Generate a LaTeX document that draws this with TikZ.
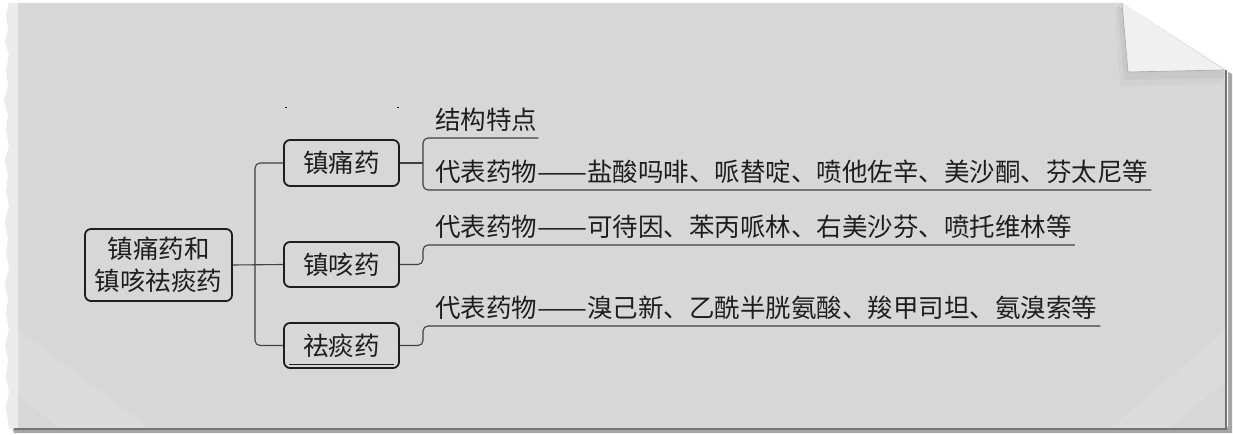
\documentclass[tikz,border=0pt]{standalone}
\usepackage{fontspec}
\newfontfamily\cjk{Noto Sans CJK SC}
\definecolor{paper}{HTML}{D7D7D7}
\definecolor{ink}{HTML}{1E1E1E}
\newcommand\longdash{\scalebox{1.17}[1]{——}}
\begin{document}
\begin{tikzpicture}[x=1pt,y=-1pt,
  box/.style={draw=ink, line width=1.8pt, rounded corners=6pt, minimum width=115pt, minimum height=46pt, inner sep=0pt, align=center, text=ink, font=\cjk\fontsize{25.5}{32}\selectfont},
  leaf/.style={anchor=base west, inner sep=0pt, text=ink, font=\cjk\fontsize{25.5}{32}\selectfont},
  conn/.style={draw=ink!85, line width=1.1pt, rounded corners=5pt}]
\useasboundingbox (0,0) rectangle (1233,435);
\fill[white] (0,0) rectangle (1233,435);
% paper shadow
\fill[black!35] (12,427) -- (1228,427) -- (1228,72) -- (1232,74) -- (1232,433) -- (14,433) -- cycle;
% torn light strip
\fill[black!8] (9,3) -- (6,15) -- (8,28) -- (5,42) -- (9,55) -- (6,70) -- (8,86) -- (4,100) -- (8,115) -- (6,130) -- (9,146) -- (5,160) -- (8,176) -- (6,192) -- (9,206) -- (5,222) -- (8,238) -- (6,252) -- (9,268) -- (5,284) -- (8,298) -- (6,314) -- (9,330) -- (5,346) -- (8,360) -- (6,376) -- (9,392) -- (6,408) -- (9,429) -- (20,429) -- (20,3) -- cycle;
% paper
\fill[paper] (18,3) -- (1122,3) -- (1226,70) -- (1226,429) -- (18,429) -- cycle;
\fill[white, opacity=0.12] (18,330) -- (150,429) -- (60,429) -- (18,395) -- cycle;
\fill[white, opacity=0.12] (1226,330) -- (1226,380) -- (1170,429) -- (1110,429) -- cycle;
\draw[black!55, line width=1.8pt] (14,429) -- (1226,429) -- (1226,70);
% folded corner
\fill[black!30, opacity=0.5] (1118,6) -- (1124,80) -- (1224,78) -- (1224,72) -- cycle;
\fill[black!20, opacity=0.5] (1115,8) -- (1120,86) -- (1222,84) -- (1224,72) -- cycle;
\fill[black!6] (1122,3) -- (1128,72) -- (1224,70) -- cycle;
\draw[black!35, line width=0.6pt] (1122,3) -- (1128,72) -- (1224,70);
% tiny marks
\draw[ink, line width=1pt] (285,108) -- (287,108);
\draw[ink, line width=1pt] (397,108) -- (399,108);
% nodes
\node[box, minimum width=147pt, minimum height=72pt] (root) at (158.5,265) {镇痛药和\\镇咳祛痰药};
\node[box] (a) at (341.5,163) {镇痛药};
\node[box, minimum height=45pt] (b) at (341.5,264.5) {镇咳药};
\node[box, minimum height=45pt] (c) at (341.5,345.5) {祛痰药};
\draw[ink, line width=1pt] ([xshift=6pt,yshift=4pt]c.south west) -- ([xshift=-6pt,yshift=4pt]c.south east);
\node[leaf] (a1) at (435,130) {结构特点};
\node[leaf] (a2) at (435,182) {代表药物\longdash 盐酸吗啡、哌替啶、喷他佐辛、美沙酮、芬太尼等};
\node[leaf] (b1) at (435,237) {代表药物\longdash 可待因、苯丙哌林、右美沙芬、喷托维林等};
\node[leaf] (c1) at (435,318) {代表药物\longdash 溴己新、乙酰半胱氨酸、羧甲司坦、氨溴索等};
% trunk
\coordinate (tr) at (255,265);
\draw[conn] (root.east) -- (b.west);
\draw[conn] (a.west) -- (tr |- a.west) -- (tr |- c.west) -- (c.west);
% brackets
\coordinate (ua) at (423,138);
\coordinate (ub) at (423,190);
\coordinate (uc) at (423,245);
\coordinate (ud) at (423,326);
\draw[conn] (a.east) -- (ua |- a.east);
\draw[conn] ([xshift=1pt]a1.east |- ua) -- (ua) -- (ub) -- ([xshift=3pt]a2.east |- ub);
\draw[conn] (b.east) -- (uc |- b.east) -- (uc) -- ([xshift=3pt]b1.east |- uc);
\draw[conn] (c.east) -- (ud |- c.east) -- (ud) -- ([xshift=3pt]c1.east |- ud);
\end{tikzpicture}
\end{document}
